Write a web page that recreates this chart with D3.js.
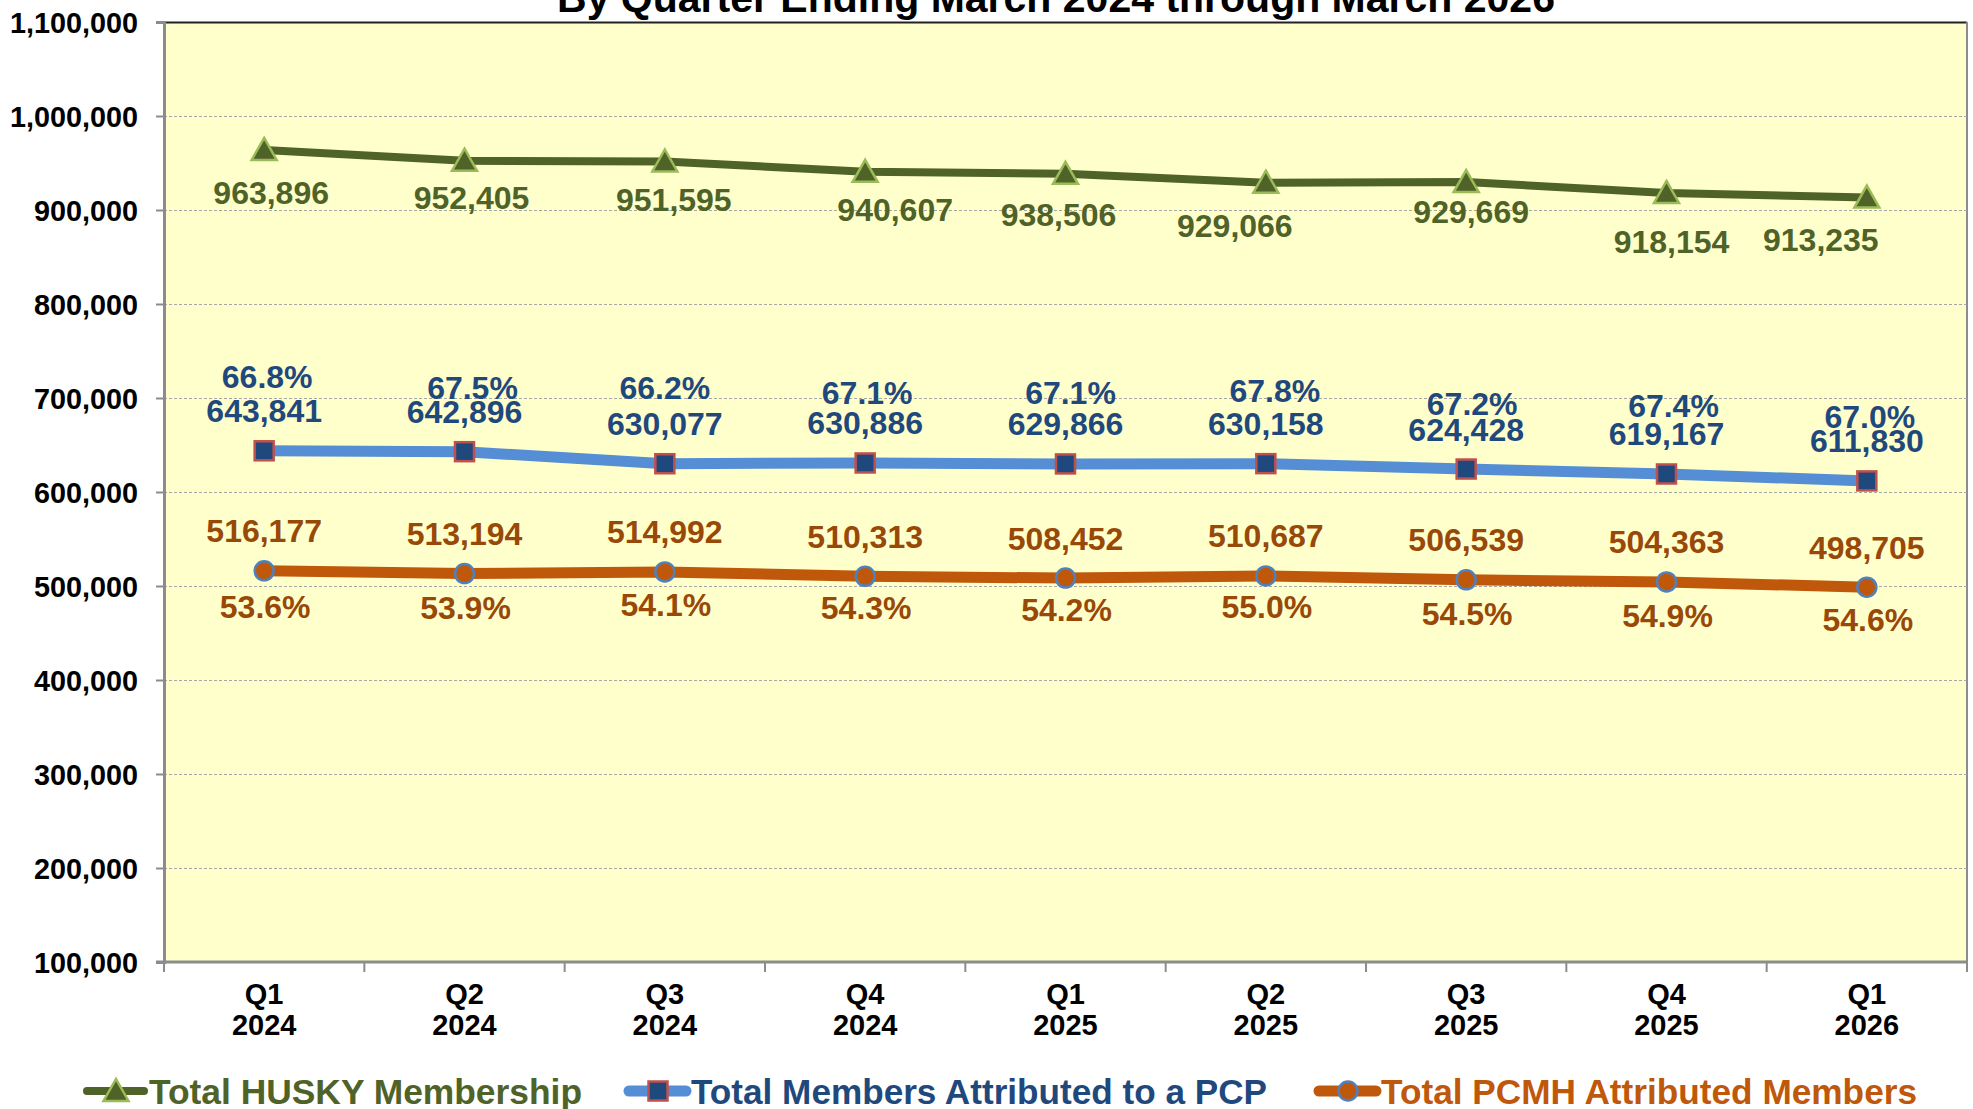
<html>
<head>
  <title>HUSKY Membership by Quarter</title>
  <script src="https://d3js.org/d3.v7.min.js"></script>
  <style>
    body { margin: 0; background: #fff; }
    text { font-family: "Liberation Sans", Arial, sans-serif; font-weight: bold; }
    .grid line { stroke: #a6a6a6; stroke-dasharray: 3,2; }
  </style>
</head>
<body>
<script>
// chart data
var quarters = ["Q1", "Q2", "Q3", "Q4", "Q1", "Q2", "Q3", "Q4", "Q1"];
var years = ["2024", "2024", "2024", "2024", "2025", "2025", "2025", "2025", "2026"];
var husky = [963896, 952405, 951595, 940607, 938506, 929066, 929669, 918154, 913235];
var pcp = [643841, 642896, 630077, 630886, 629866, 630158, 624428, 619167, 611830];
var pcpPct = [66.8, 67.5, 66.2, 67.1, 67.1, 67.8, 67.2, 67.4, 67.0];
var pcmh = [516177, 513194, 514992, 510313, 508452, 510687, 506539, 504363, 498705];
var pcmhPct = [53.6, 53.9, 54.1, 54.3, 54.2, 55.0, 54.5, 54.9, 54.6];
var yTicks = [100000, 200000, 300000, 400000, 500000, 600000, 700000, 800000, 900000, 1000000, 1100000];

// hand placed label offsets (as in the original)
var huskyDx = [7, 7, 9, 30, -7, -31, 5, 5, -46];
var huskyDy = [43, 37, 38, 38, 41, 43, 29, 49, 42];
var pcpPctDx = [3, 8, 0, 2, 5, 9, 6, 7, 3];
var pcpPctDy = [-34, -24, -36, -30, -31, -33, -26, -28, -24];
var pcmhPctDy = [36, 34, 33, 31, 31, 31, 34, 34, 32];

var width = 1973, height = 1109;
var plotL = 164, plotR = 1967, plotT = 22, plotB = 962;

var svg = d3.select("body").append("svg")
  .attr("width", width)
  .attr("height", height);

var idx = d3.range(quarters.length);

var x = d3.scaleBand().domain(idx).range([plotL, plotR]).padding(0);
var cx = function(i){ return x(i) + x.bandwidth() / 2; };
var y = d3.scaleLinear().domain([100000, 1100000]).range([plotB, plotT]);

// plot area
svg.append("rect")
  .attr("x", plotL).attr("y", plotT)
  .attr("width", plotR - plotL).attr("height", plotB - plotT)
  .attr("fill", "#ffffcc");
svg.append("line")
  .attr("x1", plotL).attr("x2", plotR).attr("y1", plotT + 0.5).attr("y2", plotT + 0.5)
  .attr("stroke", "#222").attr("stroke-width", 2);
svg.append("line")
  .attr("x1", plotR).attr("x2", plotR).attr("y1", plotT).attr("y2", plotB)
  .attr("stroke", "#8c8c8c").attr("stroke-width", 2);

// grid
svg.append("g").attr("class", "grid")
  .selectAll("line")
  .data(yTicks.slice(1, -1))
  .enter().append("line")
  .attr("x1", plotL).attr("x2", plotR)
  .attr("y1", function(d){ return y(d) + 0.5; })
  .attr("y2", function(d){ return y(d) + 0.5; });

// y axis
var yAxis = svg.append("g")
  .attr("transform", "translate(" + plotL + ",0)")
  .call(d3.axisLeft(y).tickValues(yTicks).tickFormat(d3.format(",")).tickSize(8).tickPadding(18));
yAxis.select(".domain").attr("stroke", "#8c8c8c").attr("stroke-width", 3);
yAxis.selectAll(".tick line").attr("stroke", "#8c8c8c").attr("stroke-width", 2);
yAxis.selectAll(".tick text")
  .attr("fill", "#000")
  .style("font-size", "28.8px")
  .attr("dy", "0.36em");

// x axis
var xAxis = svg.append("g")
  .attr("transform", "translate(0," + plotB + ")");
xAxis.append("line")
  .attr("x1", plotL - 8).attr("x2", plotR)
  .attr("stroke", "#8c8c8c").attr("stroke-width", 3);
xAxis.selectAll(".xt")
  .data(d3.range(quarters.length + 1))
  .enter().append("line")
  .attr("x1", function(i){ return plotL + i * x.bandwidth(); })
  .attr("x2", function(i){ return plotL + i * x.bandwidth(); })
  .attr("y1", 0).attr("y2", 10)
  .attr("stroke", "#8c8c8c").attr("stroke-width", 2);
var xl = xAxis.selectAll(".xl")
  .data(idx)
  .enter().append("text")
  .attr("text-anchor", "middle")
  .attr("fill", "#000")
  .style("font-size", "29px");
xl.append("tspan").attr("x", cx).attr("y", 42).text(function(i){ return quarters[i]; });
xl.append("tspan").attr("x", cx).attr("y", 73).text(function(i){ return years[i]; });

// title (top is cut off in the original)
svg.append("text")
  .attr("x", 1056).attr("y", 12)
  .attr("text-anchor", "middle")
  .style("font-size", "41px")
  .attr("fill", "#000")
  .text("By Quarter Ending March 2024 through March 2026");

// lines
function lineOf(vals){
  return d3.line().x(function(d, i){ return cx(i); }).y(function(d){ return y(d); })(vals);
}
svg.append("path").attr("d", lineOf(husky))
  .attr("fill", "none").attr("stroke", "#4f6228").attr("stroke-width", 8).attr("stroke-linejoin", "round");
svg.append("path").attr("d", lineOf(pcp))
  .attr("fill", "none").attr("stroke", "#558ed5").attr("stroke-width", 11).attr("stroke-linejoin", "round");
svg.append("path").attr("d", lineOf(pcmh))
  .attr("fill", "none").attr("stroke", "#bf580a").attr("stroke-width", 11).attr("stroke-linejoin", "round");

var triPath = "M0,-12L12.5,10L-12.5,10Z";

// markers
svg.append("g").selectAll("path")
  .data(husky).enter().append("path")
  .attr("d", triPath)
  .attr("transform", function(d, i){ return "translate(" + cx(i) + "," + y(d) + ")"; })
  .attr("fill", "#4f6228").attr("stroke", "#9bbb59").attr("stroke-width", 2.5);
svg.append("g").selectAll("rect")
  .data(pcp).enter().append("rect")
  .attr("x", function(d, i){ return cx(i) - 9.5; })
  .attr("y", function(d){ return y(d) - 9.5; })
  .attr("width", 19).attr("height", 19)
  .attr("fill", "#1f497d").attr("stroke", "#c0504d").attr("stroke-width", 2.5);
svg.append("g").selectAll("circle")
  .data(pcmh).enter().append("circle")
  .attr("cx", function(d, i){ return cx(i); })
  .attr("cy", function(d){ return y(d); })
  .attr("r", 9.5)
  .attr("fill", "#bf580a").attr("stroke", "#4f81bd").attr("stroke-width", 2.5);

// data labels
var fmt = d3.format(",");
var pfmt = function(v){ return v.toFixed(1) + "%"; };
var capMid = 11.5;

function labels(vals, textFn, dxFn, dyFn, color){
  svg.append("g").selectAll("text")
    .data(vals).enter().append("text")
    .attr("x", function(d, i){ return cx(i) + dxFn(i); })
    .attr("y", function(d, i){ return y(d) + dyFn(i) + capMid; })
    .attr("text-anchor", "middle")
    .style("font-size", "32px")
    .attr("fill", color)
    .text(textFn);
}

labels(husky, function(d){ return fmt(d); },
  function(i){ return huskyDx[i]; }, function(i){ return huskyDy[i]; }, "#4f6228");

labels(pcp, function(d){ return fmt(d); },
  function(i){ return 0; }, function(i){ return -40; }, "#1f497d");
labels(pcp, function(d, i){ return pfmt(pcpPct[i]); },
  function(i){ return pcpPctDx[i]; }, function(i){ return -40 + pcpPctDy[i]; }, "#1f497d");

labels(pcmh, function(d){ return fmt(d); },
  function(i){ return 0; }, function(i){ return -40; }, "#984807");
labels(pcmh, function(d, i){ return pfmt(pcmhPct[i]); },
  function(i){ return 1; }, function(i){ return pcmhPctDy[i]; }, "#984807");

// legend
var legend = [
  { name: "Total HUSKY Membership", color: "#4f6228", line: "#4f6228", lw: 8, x0: 83, len: 433, mark: "tri" },
  { name: "Total Members Attributed to a PCP", color: "#1f497d", line: "#558ed5", lw: 11, x0: 625, len: 576, mark: "sq" },
  { name: "Total PCMH Attributed Members", color: "#bf580a", line: "#bf580a", lw: 11, x0: 1315, len: 536, mark: "circ" }
];
var ly = 1091;
legend.forEach(function(l){
  var g = svg.append("g");
  g.append("line")
    .attr("x1", l.x0 + 4).attr("x2", l.x0 + 61)
    .attr("y1", ly).attr("y2", ly)
    .attr("stroke", l.line).attr("stroke-width", l.lw).attr("stroke-linecap", "round");
  var mx = l.x0 + 33;
  if (l.mark == "tri") {
    g.append("path").attr("d", triPath)
      .attr("transform", "translate(" + mx + "," + ly + ")")
      .attr("fill", "#4f6228").attr("stroke", "#9bbb59").attr("stroke-width", 2.5);
  } else if (l.mark == "sq") {
    g.append("rect").attr("x", mx - 9.5).attr("y", ly - 9.5).attr("width", 19).attr("height", 19)
      .attr("fill", "#1f497d").attr("stroke", "#c0504d").attr("stroke-width", 2.5);
  } else {
    g.append("circle").attr("cx", mx).attr("cy", ly).attr("r", 9.5)
      .attr("fill", "#bf580a").attr("stroke", "#4f81bd").attr("stroke-width", 2.5);
  }
  g.append("text")
    .attr("x", l.x0 + 66).attr("y", ly + 12.5)
    .style("font-size", "35px")
    .attr("fill", l.color)
    .attr("textLength", l.len)
    .attr("lengthAdjust", "spacingAndGlyphs")
    .text(l.name);
});
</script>
</body>
</html>
